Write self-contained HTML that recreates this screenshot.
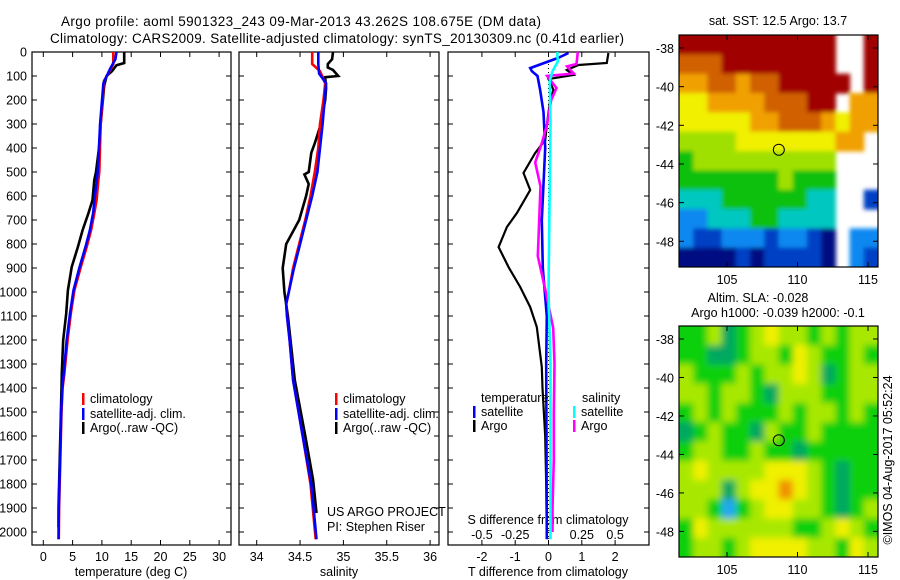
<!DOCTYPE html>
<html><head><meta charset="utf-8"><style>
html,body{margin:0;padding:0;background:#fff;}
svg{display:block;font-family:"Liberation Sans",sans-serif;}
text{font-size:12.5px;fill:#000;}
</style></head><body>
<svg id="c" width="900" height="580" viewBox="0 0 900 580">
<defs>
<filter id="blurSst" x="-5%" y="-5%" width="110%" height="110%"><feGaussianBlur stdDeviation="2.2"/></filter>
<filter id="blurSla" x="-10%" y="-10%" width="120%" height="120%"><feGaussianBlur stdDeviation="3.5"/></filter>
<clipPath id="clipSst"><rect x="679" y="35" width="199" height="232"/></clipPath>
<clipPath id="clipSla"><rect x="679" y="326" width="199" height="231"/></clipPath>
</defs>
<text x="61" y="26" textLength="480" style="font-size:13.5px">Argo profile: aoml 5901323_243 09-Mar-2013 43.262S 108.675E (DM data)</text>
<text x="50" y="43" textLength="574" style="font-size:13.5px">Climatology: CARS2009. Satellite-adjusted climatology: synTS_20130309.nc (0.41d earlier)</text>
</svg>
<script>
// ---------- data ----------
const depthTicks=[0,100,200,300,400,500,600,700,800,900,1000,1100,1200,1300,1400,1500,1600,1700,1800,1900,2000];
const tTicks=[0,5,10,15,20,25,30];
const sTicks=[34,34.5,35,35.5,36];
const dTTicks=[-2,-1,0,1,2];
const dSTicks=[-0.5,-0.25,0,0.25,0.5];
const dSTickLabels=["-0.5","-0.25","0","0.25","0.5"];
// temperature profiles
const tArgoDepth=[0,46,55,80,100,140,300,400,500,533,617,672,742,812,896,993,1090,1200,1338,1400,1500,1700,1900,1980];
const tArgoVal=[13.8,13.8,12.5,11.7,10.8,10.4,9.8,9.5,9.0,8.7,8.4,7.7,6.7,5.9,4.85,4.2,3.9,3.4,3.15,3.1,3.0,2.8,2.6,2.6];
const tClimDepth=[0,50,90,120,300,500,533,617,672,742,812,896,993,1090,1200,1338,1400,1500,1700,1900,2030];
const tClimVal=[11.95,11.95,11.1,10.35,9.8,9.55,9.4,9.1,8.7,8.15,7.4,6.4,5.3,4.7,4.15,3.6,3.3,3.1,2.9,2.7,2.65];
const tSatDepth=[0,30,70,130,300,500,600,672,742,812,896,993,1090,1200,1338,1400,1500,1700,1900,2030];
const tSatVal=[12.5,12.3,11.4,10.25,9.7,9.3,8.8,8.5,7.95,7.2,6.2,5.15,4.55,4.0,3.5,3.25,3.05,2.85,2.65,2.6];
// salinity profiles
const sArgoDepth=[0,30,50,65,75,100,105,150,200,300,380,420,500,510,550,600,700,800,900,1000,1100,1200,1367,1600,1783,1921];
const sArgoVal=[34.88,34.87,34.82,34.82,34.88,34.94,34.79,34.8,34.79,34.74,34.67,34.63,34.6,34.55,34.6,34.57,34.49,34.34,34.3,34.32,34.36,34.39,34.44,34.56,34.65,34.69];
const sClimDepth=[0,50,80,130,200,300,400,500,600,700,800,900,1000,1050,1100,1200,1367,1600,1800,2030];
const sClimVal=[34.64,34.64,34.73,34.79,34.77,34.73,34.71,34.67,34.62,34.56,34.49,34.42,34.37,34.34,34.35,34.38,34.42,34.53,34.62,34.68];
const sSatDepth=[0,50,90,130,300,500,600,700,800,900,1000,1050,1100,1200,1367,1600,1800,2030];
const sSatVal=[34.71,34.71,34.72,34.8,34.76,34.7,34.64,34.57,34.5,34.43,34.37,34.34,34.35,34.38,34.42,34.53,34.63,34.69];
// differences
const dTArgoDepth=[4,46,54,75,96,113,158,200,283,367,421,504,575,671,729,813,896,979,1063,1146,1313,1400,1600,1800,2000];
const dTArgoVal=[1.8,1.75,0.9,0.55,0.75,0,0.15,0.05,-0.03,-0.1,-0.4,-0.75,-0.55,-0.95,-1.25,-1.5,-1.2,-0.85,-0.55,-0.35,-0.2,-0.18,-0.1,-0.07,-0.05];
const dTSatDepth=[4,25,67,80,100,160,250,400,700,900,1100,1300,1600,2030];
const dTSatVal=[0.6,0.28,-0.55,-0.5,-0.33,-0.25,-0.15,-0.1,-0.2,-0.17,-0.05,-0.07,-0.06,-0.05];
const dSSatDepth=[0,40,80,120,300,1000,1300,2030];
const dSSatVal=[0.065,0.07,0.03,0.01,0.015,0.0,0.015,0.015];
const dSArgoDepth=[0,50,60,90,100,150,200,300,380,460,560,700,850,1000,1150,1300,1500,1700,1900,2000];
const dSArgoVal=[0.22,0.21,0.14,0.19,-0.01,0.06,0.02,-0.01,-0.05,-0.1,-0.06,-0.07,-0.08,-0.02,0.035,0.045,0.04,0.04,0.03,0.03];
// maps
const lonTicks=[105,110,115];
const latTicks=[-38,-40,-42,-44,-46,-48];
const sstGrid=[
"99999999999..9","88899999999..9","778878899999.9","66777788899.77","66666778887677",
"5555666666677.","45555555555...","44444445444...","33344444433..1","22333443333...",
"21122212210.22","00001011110.21"];
const slaGrid=[
"22312343323233","22112332432232","32223233431233","33233213332233","23232223233232",
"12322132232222","23322322122222","34333344432122","33313445432122","33202344332123",
"24333333223432","23323444433243"];
const argoLon=108.675, argoLat=-43.262;
// ---------- drawing ----------
const svg=document.getElementById('c');
const NS='http://www.w3.org/2000/svg';
function mk(tag,attrs,parent){const e=document.createElementNS(NS,tag);for(const k in attrs)e.setAttribute(k,attrs[k]);(parent||svg).appendChild(e);return e;}
function txt(x,y,s,anchor,parent,size){const e=mk('text',{x:x,y:y,'text-anchor':anchor||'start'},parent);if(size)e.style.fontSize=size+'px';e.textContent=s;return e;}
const Y0=52,YK=0.24,PB=545;
const yD=d=>Y0+d*YK;
const xT=t=>43.3+5.86*t;
const xS=s=>256.7+86.7*(s-34);
const xDT=v=>548.5+33.3*v;
const xDS=v=>548.5+133.2*v;
function line(depths,vals,fx,color,name,w){
  const pts=depths.map((d,i)=>fx(vals[i]).toFixed(1)+','+yD(d).toFixed(1)).join(' ');
  const p=mk('polyline',{points:pts,fill:'none',stroke:color,'stroke-width':w||2.6,'stroke-linejoin':'miter'});
  
  
}
function frame(x0,x1,name){
  const r=mk('rect',{x:x0,y:Y0,width:x1-x0,height:PB-Y0,fill:'none',stroke:'#000','stroke-width':1.2});
  
  
  depthTicks.forEach(d=>{mk('line',{x1:x0,x2:x0+5,y1:yD(d),y2:yD(d),stroke:'#000'});mk('line',{x1:x1,x2:x1-5,y1:yD(d),y2:yD(d),stroke:'#000'});});
}
// panel 1
frame(32,231,'temperature-panel');
depthTicks.forEach(d=>{const t=txt(27,yD(d)+4.5,String(d),'end');});
tTicks.forEach(v=>{mk('line',{x1:xT(v),x2:xT(v),y1:PB,y2:PB-5,stroke:'#000'});mk('line',{x1:xT(v),x2:xT(v),y1:Y0,y2:Y0+5,stroke:'#000'});const t=txt(xT(v),561,String(v),'middle');});
{const t=txt(131,576,'temperature (deg C)','middle');}
line(tArgoDepth,tArgoVal,xT,'#000','temperature-argo-line');
line(tClimDepth,tClimVal,xT,'#f00','temperature-climatology-line');
line(tSatDepth,tSatVal,xT,'#00f','temperature-satellite-line');
// panel 2
frame(239,439,'salinity-panel');
sTicks.forEach(v=>{mk('line',{x1:xS(v),x2:xS(v),y1:PB,y2:PB-5,stroke:'#000'});mk('line',{x1:xS(v),x2:xS(v),y1:Y0,y2:Y0+5,stroke:'#000'});const t=txt(xS(v),561,String(v),'middle');});
{const t=txt(339,576,'salinity','middle');}
line(sArgoDepth,sArgoVal,xS,'#000','salinity-argo-line');
line(sClimDepth,sClimVal,xS,'#f00','salinity-climatology-line');
line(sSatDepth,sSatVal,xS,'#00f','salinity-satellite-line');
// panel 3
frame(448,649,'difference-panel');
dTTicks.forEach(v=>{mk('line',{x1:xDT(v),x2:xDT(v),y1:PB,y2:PB-5,stroke:'#000'});mk('line',{x1:xDT(v),x2:xDT(v),y1:Y0,y2:Y0+5,stroke:'#000'});const t=txt(xDT(v),561,String(v),'middle');});
dSTicks.forEach((v,i)=>{const t=txt(xDS(v),539,dSTickLabels[i],'middle');});
{const t=txt(548,576,'T difference from climatology','middle');}
{const t=txt(548,524,'S difference from climatology','middle');}
mk('line',{x1:xDT(0),x2:xDT(0),y1:Y0,y2:yD(2030),stroke:'#000','stroke-dasharray':'1,3','stroke-width':1});
line(dTArgoDepth,dTArgoVal,xDT,'#000','t-diff-argo-line',2.2);
line(dTSatDepth,dTSatVal,xDT,'#00f','t-diff-satellite-line',2.6);
line(dSArgoDepth,dSArgoVal,xDS,'#f0f','s-diff-argo-line',2.6);
line(dSSatDepth,dSSatVal,xDS,'#0ff','s-diff-satellite-line',2.6);
// legends
function legend(x,y,color,label,name){const g=mk('g',{});mk('rect',{x:x,y:y-10,width:2.5,height:12,fill:color},g);txt(x+8,y,label,'start',g);}
[[82,'temperature-legend'],[335,'salinity-legend']].forEach(([x,n])=>{
 legend(x,403,'#f00','climatology',n+'-climatology');
 legend(x,418,'#00f','satellite-adj. clim.',n+'-satellite');
 legend(x,432,'#000','Argo(..raw -QC)',n+'-argo');
});
{const t=txt(481,402,'temperature');}
{const t=txt(582,402,'salinity');}
legend(473,416,'#00f','satellite','diff-legend-t-satellite');
legend(473,430,'#000','Argo','diff-legend-t-argo');
legend(573,416,'#0ff','satellite','diff-legend-s-satellite');
legend(573,430,'#f0f','Argo','diff-legend-s-argo');
{const t=txt(327,516,'US ARGO PROJECT');}
{const t=txt(327,531,'PI: Stephen Riser');}
// maps
const sstColors={'0':'#000a82','1':'#0040c4','2':'#0a88f0','3':'#00c8c0','4':'#10c010','5':'#a0e000','6':'#f0f000','7':'#f0a000','8':'#d06000','9':'#a00000'};
const slaColors={'0':'#20a8f0','1':'#00a860','2':'#10d010','3':'#a8e800','4':'#f0f000','5':'#f09000'};
function map(top,bottom,lat38y,grid,colors,name,filt,clip){
  const X0=679,X1=878;
  const xL=lon=>727+(lon-105)*14.1;
  const yL=lat=>lat38y+(-38-lat)*((bottom-lat38y)/(-38+49.33));
  const outer=mk('g',{'clip-path':'url(#'+clip+')'});
  const g=mk('g',{filter:'url(#'+filt+')'},outer);
  const rows=grid.length, cols=grid[0].length;
  const cw=(X1-X0)/cols, ch=(bottom-top)/rows;
  grid.forEach((row,r)=>{for(let c=0;c<cols;c++){const v=row[c];if(v==='.')continue;
    const cell=mk('rect',{x:X0+c*cw-(c===0?8:0),y:top+r*ch-(r===0?8:0),width:cw+0.6+(c===0||c===cols-1?8:0),height:ch+0.6+(r===0||r===rows-1?8:0),fill:colors[v]},g);
    
    }});
  mk('rect',{x:X0,y:top,width:X1-X0,height:bottom-top,fill:'none',stroke:'#000','stroke-width':1.2});
  lonTicks.forEach(l=>{mk('line',{x1:xL(l),x2:xL(l),y1:bottom,y2:bottom-5,stroke:'#000'});mk('line',{x1:xL(l),x2:xL(l),y1:top,y2:top+5,stroke:'#000'});const t=txt(xL(l),bottom+17,String(l),'middle');});
  latTicks.forEach(l=>{mk('line',{x1:X0,x2:X0+5,y1:yL(l),y2:yL(l),stroke:'#000'});mk('line',{x1:X1,x2:X1-5,y1:yL(l),y2:yL(l),stroke:'#000'});const t=txt(674,yL(l)+5,String(l),'end');});
  const m=mk('circle',{cx:xL(argoLon),cy:yL(argoLat),r:5.5,fill:'none',stroke:'#000','stroke-width':1});
  
  
}
map(35,267,48,sstGrid,sstColors,'sst-map','blurSst','clipSst');
map(326,557,339,slaGrid,slaColors,'sla-map','blurSla','clipSla');
{const t=txt(778,25,'sat. SST: 12.5 Argo: 13.7','middle');}
{const t=txt(758,302,'Altim. SLA: -0.028','middle');}
{const t=txt(778,317,'Argo h1000: -0.039 h2000: -0.1','middle');}
{const t=txt(0,0,'\u00a9IMOS 04-Aug-2017 05:52:24','middle');t.setAttribute('transform','translate(892,460) rotate(-90)');}
</script>
</body></html>
